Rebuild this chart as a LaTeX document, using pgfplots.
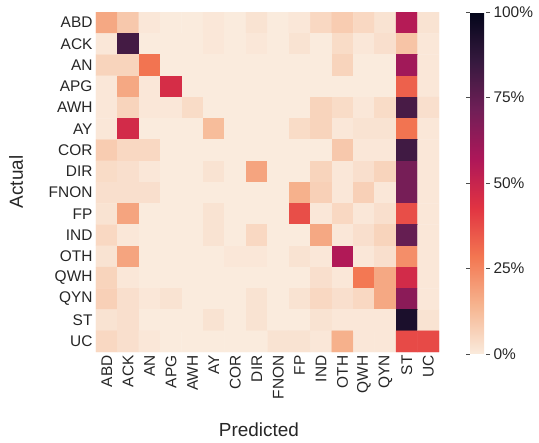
\documentclass[border=0pt]{standalone}
\usepackage{pgfplots}
\pgfplotsset{compat=1.18}
\usepackage{fontspec}
\setmainfont{Liberation Sans}
\begin{document}
\begin{tikzpicture}
\useasboundingbox (-96bp,-91bp) rectangle (443bp,352bp);
\begin{axis}[
  at={(0,0)}, anchor=south west,
  scale only axis, width=343bp, height=340bp,
  xmin=-0.5, xmax=15.5, ymin=-0.5, ymax=15.5,
  y dir=reverse, enlargelimits=false,
  axis line style={draw=none}, tick style={draw=none},
  xtick={0,...,15}, ytick={0,...,15},
  xticklabels={ABD,ACK,AN,APG,AWH,AY,COR,DIR,FNON,FP,IND,OTH,QWH,QYN,ST,UC},
  yticklabels={ABD,ACK,AN,APG,AWH,AY,COR,DIR,FNON,FP,IND,OTH,QWH,QYN,ST,UC},
  x tick label style={rotate=90, anchor=east, font=\fontsize{15.5}{18}\selectfont, text=black!85},
  y tick label style={font=\fontsize{15.5}{18}\selectfont, text=black!85},
  xlabel={Predicted}, ylabel={Actual},
  xlabel style={at={(axis description cs:0.475,0)}, anchor=base, yshift=-84bp, font=\fontsize{19}{22}\selectfont, text=black!85},
  ylabel style={at={(axis description cs:-0.233,0.5)}, anchor=center, font=\fontsize{19}{22}\selectfont, text=black!85},
  colormap={rocketr}{rgb255=(250,235,221) rgb255=(246,180,143) rgb255=(243,118,81) rgb255=(225,51,66) rgb255=(173,23,89) rgb255=(112,31,87) rgb255=(53,25,62) rgb255=(3,5,26)},
  point meta min=0, point meta max=1,
  colorbar,
  colorbar style={
    at={(1.0904,1)}, anchor=north west,
    scale only axis, width=16bp, height=342bp,
    axis line style={draw=none},
    ytick={0,0.25,0.5,0.75,1},
    yticklabels={0\%,25\%,50\%,75\%,100\%},
    yticklabel pos=right,
    ytick style={draw=black!70, line width=0.6pt},
    major tick length=4bp,
    tick align=outside,
    y tick label style={font=\fontsize{15.5}{18}\selectfont, text=black!85},
  },
]
\addplot[matrix plot*, mesh/cols=16, point meta=explicit]
  table[row sep=\\, x expr={round(\coordindex-16*floor((\coordindex+0.5)/16))}, y expr={floor((\coordindex+0.5)/16)}, meta=c]{
c\\
0.17\\0.09\\0.01\\0\\0\\0.01\\0\\0.02\\0\\0.01\\0.05\\0.08\\0.05\\0.02\\0.55\\0.02\\
0.01\\0.82\\0\\0\\0\\0.01\\0\\0.01\\0\\0.02\\0\\0.04\\0.01\\0.03\\0.10\\0.01\\
0.06\\0.06\\0.29\\0\\0\\0\\0\\0\\0\\0\\0\\0.06\\0\\0\\0.60\\0.01\\
0.01\\0.17\\0.01\\0.46\\0\\0\\0\\0\\0\\0\\0\\0\\0\\0\\0.33\\0.01\\
0.01\\0.06\\0.01\\0.01\\0.04\\0\\0\\0\\0\\0\\0.06\\0.04\\0.01\\0.04\\0.81\\0.03\\
0.01\\0.47\\0\\0\\0\\0.12\\0\\0\\0\\0.04\\0.06\\0.01\\0.02\\0.02\\0.29\\0.01\\
0.08\\0.05\\0.05\\0\\0\\0\\0\\0\\0\\0\\0\\0.09\\0.01\\0.01\\0.83\\0.01\\
0.04\\0.03\\0.01\\0\\0\\0.02\\0\\0.18\\0\\0\\0.06\\0.01\\0.03\\0.06\\0.70\\0.01\\
0.03\\0.03\\0.03\\0\\0\\0\\0\\0\\0\\0.15\\0.07\\0.01\\0.07\\0.01\\0.70\\0.01\\
0.02\\0.18\\0\\0\\0\\0.02\\0\\0\\0\\0.37\\0.01\\0.05\\0.01\\0.03\\0.37\\0.01\\
0.05\\0.01\\0\\0\\0\\0.02\\0\\0.05\\0\\0\\0.17\\0.01\\0.03\\0.06\\0.74\\0.01\\
0.02\\0.18\\0\\0\\0\\0\\0.01\\0.01\\0\\0.02\\0.01\\0.56\\0.01\\0.03\\0.23\\0.01\\
0.06\\0.01\\0\\0\\0\\0\\0\\0\\0\\0\\0.03\\0.01\\0.28\\0.17\\0.47\\0.01\\
0.07\\0.03\\0.01\\0.02\\0\\0\\0\\0.02\\0\\0.02\\0.05\\0.03\\0.05\\0.17\\0.65\\0.01\\
0.02\\0.03\\0\\0\\0\\0.02\\0\\0.02\\0\\0\\0.02\\0.01\\0.01\\0.01\\0.93\\0.02\\
0.05\\0.03\\0.01\\0\\0\\0\\0\\0\\0.02\\0.02\\0.01\\0.15\\0.01\\0.01\\0.38\\0.38\\
};
\end{axis}
\end{tikzpicture}
\end{document}
